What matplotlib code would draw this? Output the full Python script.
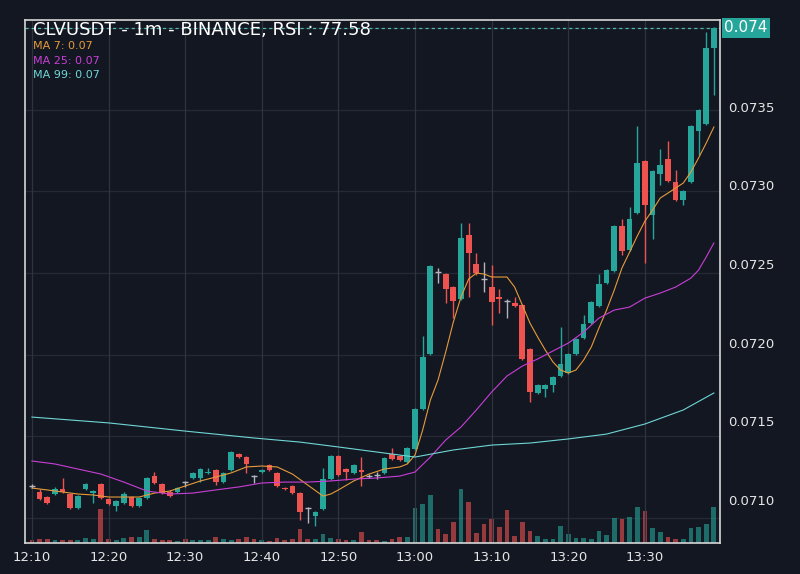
import numpy as np
import matplotlib.pyplot as plt
from matplotlib.ticker import FormatStrFormatter

# 1 minute candles, 12:10 -> 13:39
start_time = "12:10"
opens = [0.071089, 0.071051, 0.071019, 0.071038, 0.071070, 0.071038, 0.070949, 0.071070, 0.071044, 0.071102,
         0.071006, 0.070962, 0.070981, 0.071019, 0.070962, 0.071013, 0.071152, 0.071102, 0.071051, 0.071051,
         0.071114, 0.071140, 0.071140, 0.071172, 0.071191, 0.071114, 0.071191, 0.071292, 0.071273, 0.071152,
         0.071178, 0.071222, 0.071172, 0.071076, 0.071089, 0.071044, 0.070949, 0.070898, 0.070943, 0.071133,
         0.071280, 0.071197, 0.071172, 0.071191, 0.071152, 0.071159, 0.071172, 0.071292, 0.071280, 0.071241,
         0.071324, 0.071578, 0.071928, 0.072448, 0.072436, 0.072353, 0.072277, 0.072684, 0.072499, 0.072404,
         0.072353, 0.072290, 0.072264, 0.072252, 0.072239, 0.071959, 0.071680, 0.071705, 0.071731, 0.071788,
         0.071807, 0.071928, 0.072029, 0.072124, 0.072232, 0.072379, 0.072455, 0.072741, 0.072588, 0.072823,
         0.073154, 0.072811, 0.073071, 0.073166, 0.073020, 0.072906, 0.073020, 0.073344, 0.073389, 0.073872]
highs = [0.071102, 0.071070, 0.071025, 0.071083, 0.071140, 0.071044, 0.071032, 0.071108, 0.071064, 0.071108,
         0.071013, 0.071000, 0.071051, 0.071025, 0.071019, 0.071146, 0.071178, 0.071108, 0.071064, 0.071083,
         0.071121, 0.071178, 0.071203, 0.071203, 0.071197, 0.071178, 0.071311, 0.071299, 0.071280, 0.071159,
         0.071197, 0.071229, 0.071178, 0.071083, 0.071095, 0.071051, 0.070956, 0.070930, 0.071203, 0.071286,
         0.071286, 0.071203, 0.071229, 0.071273, 0.071165, 0.071178, 0.071273, 0.071330, 0.071286, 0.071337,
         0.071584, 0.072042, 0.072493, 0.072474, 0.072442, 0.072360, 0.072760, 0.072760, 0.072569, 0.072512,
         0.072493, 0.072340, 0.072277, 0.072290, 0.072245, 0.071966, 0.071737, 0.071737, 0.071788, 0.072099,
         0.071934, 0.072029, 0.072175, 0.072264, 0.072436, 0.072468, 0.072747, 0.072785, 0.072861, 0.073376,
         0.073160, 0.073096, 0.073230, 0.073281, 0.073096, 0.072969, 0.073382, 0.073484, 0.073973, 0.074005]
lows = [0.071076, 0.071000, 0.070975, 0.071032, 0.071044, 0.070943, 0.070943, 0.071064, 0.070981, 0.071006,
        0.070968, 0.070930, 0.070975, 0.070956, 0.070956, 0.071006, 0.071102, 0.071038, 0.071019, 0.071044,
        0.071083, 0.071133, 0.071114, 0.071165, 0.071095, 0.071108, 0.071184, 0.071267, 0.071172, 0.071108,
        0.071172, 0.071184, 0.071083, 0.071064, 0.071038, 0.070873, 0.070854, 0.070835, 0.070936, 0.071127,
        0.071152, 0.071127, 0.071165, 0.071089, 0.071140, 0.071133, 0.071165, 0.071254, 0.071248, 0.071235,
        0.071318, 0.071572, 0.071921, 0.072379, 0.072252, 0.072156, 0.072271, 0.072290, 0.072429, 0.072321,
        0.072112, 0.072188, 0.072156, 0.072226, 0.071889, 0.071623, 0.071673, 0.071654, 0.071686, 0.071781,
        0.071800, 0.071921, 0.072023, 0.072118, 0.072226, 0.072372, 0.072448, 0.072556, 0.072582, 0.072817,
        0.072506, 0.072658, 0.073001, 0.073020, 0.072900, 0.072874, 0.073014, 0.073192, 0.073382, 0.073573]
closes = [0.071089, 0.071006, 0.070981, 0.071070, 0.071051, 0.070949, 0.071025, 0.071102, 0.071057, 0.071013,
          0.070975, 0.070994, 0.071038, 0.070962, 0.071013, 0.071140, 0.071108, 0.071044, 0.071025, 0.071076,
          0.071114, 0.071172, 0.071197, 0.071178, 0.071114, 0.071172, 0.071305, 0.071273, 0.071229, 0.071152,
          0.071191, 0.071191, 0.071089, 0.071070, 0.071044, 0.070924, 0.070949, 0.070924, 0.071133, 0.071280,
          0.071159, 0.071178, 0.071222, 0.071178, 0.071152, 0.071159, 0.071267, 0.071260, 0.071254, 0.071330,
          0.071578, 0.071908, 0.072487, 0.072448, 0.072340, 0.072264, 0.072664, 0.072569, 0.072442, 0.072404,
          0.072258, 0.072277, 0.072264, 0.072232, 0.071896, 0.071686, 0.071731, 0.071731, 0.071781, 0.071864,
          0.071928, 0.072023, 0.072118, 0.072258, 0.072372, 0.072461, 0.072741, 0.072582, 0.072785, 0.073141,
          0.072874, 0.073090, 0.073128, 0.073027, 0.072906, 0.072963, 0.073376, 0.073478, 0.073872, 0.074000]
volumes = [3, 4, 4, 3, 3, 3, 3.5, 5, 4, 34, 4, 3, 5, 6.5, 6, 13, 4, 3, 3, 2.5,
           4, 3, 3, 3, 6.5, 4.5, 3, 4.5, 6.5, 4.5, 3, 2.5, 5, 3.5, 4.5, 14, 4.5, 4.5, 9, 5,
           4, 3.5, 3.5, 11, 3.5, 3.5, 2, 4, 6, 6, 35, 39, 48, 14, 9, 21, 54, 41, 10, 19,
           24, 16, 33, 7, 21, 12, 7, 4, 4, 17, 9, 5, 5, 4, 12, 8, 25, 24, 26, 36,
           32, 15, 11, 6, 4, 4, 15, 16, 19, 36]  # thousands

# moving averages as shown on the chart (history before 12:10 not available)
ma7_idx = [0, 2, 4, 6, 8, 10, 12, 14, 16, 18, 20, 22, 24, 26, 28, 30, 32, 34, 36, 38, 39, 40, 42, 44, 46, 48,
           49, 50, 51, 52, 53, 54, 55, 56, 57, 58, 59, 60, 61, 62, 63, 64, 65, 66, 67, 68, 69, 70, 71, 72, 73,
           74, 75, 76, 77, 78, 79, 80, 81, 82, 83, 84, 85, 86, 87, 88, 89]
ma7 = [0.071076, 0.071064, 0.071051, 0.071038, 0.071032, 0.071019, 0.071019, 0.071019, 0.071044, 0.071057,
       0.071089, 0.071121, 0.071146, 0.071172, 0.071210, 0.071216, 0.071210, 0.071165, 0.071095, 0.071025,
       0.071038, 0.071064, 0.071121, 0.071165, 0.071197, 0.071210, 0.071229, 0.071286, 0.071445, 0.071635,
       0.071762, 0.071940, 0.072131, 0.072290, 0.072404, 0.072442, 0.072436, 0.072417, 0.072417, 0.072417,
       0.072353, 0.072239, 0.072124, 0.072036, 0.071953, 0.071877, 0.071826, 0.071807, 0.071826, 0.071889,
       0.071972, 0.072093, 0.072207, 0.072334, 0.072474, 0.072575, 0.072677, 0.072772, 0.072842, 0.072919,
       0.072950, 0.072982, 0.073014, 0.073084, 0.073173, 0.073268, 0.073370]
ma25_idx = [0, 3, 6, 9, 12, 15, 18, 21, 24, 27, 30, 33, 36, 39, 42, 45, 48, 50, 52, 54, 56, 58, 60, 62, 64,
            66, 68, 70, 72, 74, 76, 78, 80, 82, 84, 86, 87, 88, 89]
ma25 = [0.071248, 0.071229, 0.071197, 0.071165, 0.071114, 0.071057, 0.071038, 0.071044, 0.071064, 0.071083,
        0.071108, 0.071114, 0.071114, 0.071121, 0.071133, 0.071140, 0.071152, 0.071178, 0.071273, 0.071381,
        0.071464, 0.071572, 0.071686, 0.071788, 0.071851, 0.071896, 0.071947, 0.071997, 0.072067, 0.072156,
        0.072207, 0.072226, 0.072283, 0.072315, 0.072353, 0.072410, 0.072461, 0.072544, 0.072633]
ma99_idx = [0, 10, 20, 29, 35, 40, 45, 50, 55, 60, 65, 70, 75, 80, 85, 89]
ma99 = [0.071527, 0.071490, 0.071438, 0.071394, 0.071368, 0.071337, 0.071305, 0.071273, 0.071318, 0.071349,
        0.071362, 0.071388, 0.071419, 0.071483, 0.071572, 0.071680]

tick_labels = ["12:10", "12:20", "12:30", "12:40", "12:50", "13:00", "13:10", "13:20", "13:30"]
price_ticks = [0.0710, 0.0715, 0.0720, 0.0725, 0.0730, 0.0735]
rsi = 77.58

BG = "#131722"
UP = "#26a69a"
DOWN = "#ef5350"
DOJI = "#b2b5be"
GRID_X = "#2f3340"
GRID_Y = "#252a36"
TEXT = "#e6e6e6"


def minutes(t):
    h, m = t.split(":")
    return int(h) * 60 + int(m)


def candle_color(o, c):
    if c > o:
        return UP
    if c < o:
        return DOWN
    return DOJI


fig = plt.figure(figsize=(8, 5.74), dpi=100, facecolor=BG)
ax = fig.add_axes([0.03125, 0.054, 0.86875, 0.911])
ax_v = ax.twinx()
ax.set_zorder(ax_v.get_zorder() + 1)
ax.patch.set_visible(False)
ax_v.patch.set_visible(True)
ax_v.set_facecolor(BG)

x = np.arange(len(closes))

# volume
vol_colors = [UP if c > o else DOWN for o, c in zip(opens, closes)]
ax_v.bar(x, volumes, width=0.62, color=vol_colors, alpha=0.6, zorder=2)
ax_v.set_ylim(0, 523)
ax_v.set_yticks(np.arange(25.3, 523, 81.6))
ax_v.tick_params(axis="y", length=0, labelright=False, labelleft=False)
ax_v.grid(axis="y", color=GRID_Y, lw=0.9)
for s in ax_v.spines.values():
    s.set_visible(False)

# candles
for i in x:
    o, h, l, c = opens[i], highs[i], lows[i], closes[i]
    col = candle_color(o, c)
    ax.vlines(i, l, h, color=col, lw=1, zorder=3)
    if o == c:
        ax.hlines(o, i - 0.37, i + 0.37, color=col, lw=1, zorder=3)
    else:
        ax.bar(i, abs(c - o), bottom=min(o, c), width=0.75, color=col, lw=0, zorder=4)

# moving averages
ax.plot(ma7_idx, ma7, color="#e69b3a", lw=0.8, zorder=5)
ax.plot(ma25_idx, ma25, color="#c83fd6", lw=0.8, zorder=5)
ax.plot(ma99_idx, ma99, color="#6fd6d6", lw=0.8, zorder=5)

# last price line
ax.axhline(closes[-1], color="#4fb8ad", lw=0.9, ls=(0, (2.5, 2.5)), zorder=2)

ax.set_xlim(-0.9, 89.8)
ax.set_ylim(0.0707268, 0.0740496)

ax.yaxis.tick_right()
ax.set_yticks(price_ticks)
ax.yaxis.set_major_formatter(FormatStrFormatter("%.4f"))
t0 = minutes(start_time)
ax.set_xticks([minutes(t) - t0 for t in tick_labels])
ax.set_xticklabels(tick_labels)
ax.tick_params(axis="both", length=0, colors=TEXT, labelsize=9.5)
ax.tick_params(axis="x", pad=6)
ax.tick_params(axis="y", pad=6)
ax.grid(axis="x", color=GRID_X, lw=0.9)
ax.set_axisbelow(True)
for s in ax.spines.values():
    s.set_color("#d6d6d6")
    s.set_linewidth(1.2)

ax.text(0.0115, 0.981, f"CLVUSDT - 1m - BINANCE, RSI : {rsi:.2f}", transform=ax.transAxes,
        color="white", fontsize=13, va="center", ha="left", zorder=6)
ax.text(0.0115, 0.950, f"MA 7: {ma7[-1]:.2f}", transform=ax.transAxes, color="#e69b3a", fontsize=8, va="center")
ax.text(0.0115, 0.9216, f"MA 25: {ma25[-1]:.2f}", transform=ax.transAxes, color="#c83fd6", fontsize=8, va="center")
ax.text(0.0115, 0.8948, f"MA 99: {ma99[-1]:.2f}", transform=ax.transAxes, color="#6fd6d6", fontsize=8, va="center")

ax.text(1.006, closes[-1], f"{closes[-1]:.3f}", transform=ax.get_yaxis_transform(), color="white",
        fontsize=11, va="center", ha="left", clip_on=False,
        bbox=dict(boxstyle="square,pad=0.15", fc=UP, ec="none"))

fig.savefig("out.png", dpi=100, facecolor=BG)
